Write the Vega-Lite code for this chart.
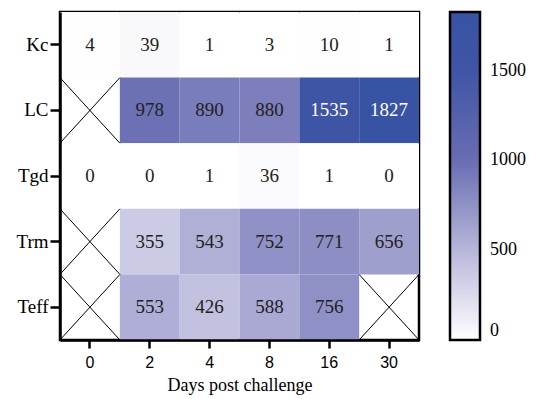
{
  "$schema": "https://vega.github.io/schema/vega-lite/v6.json",
  "autosize": "none",
  "width": 359,
  "height": 328,
  "padding": {"left": 60, "top": 12, "right": 117, "bottom": 59},
  "background": "white",
  "config": {
    "view": {"stroke": "black", "strokeWidth": 2.5},
    "axis": {"domainColor": "black", "domainWidth": 2.5, "tickColor": "black", "tickWidth": 2.5, "labelColor": "black", "titleColor": "black", "grid": false}
  },
  "data": {
    "values": [
      {"cell": "Kc", "day": "0", "value": 4},
      {"cell": "Kc", "day": "2", "value": 39},
      {"cell": "Kc", "day": "4", "value": 1},
      {"cell": "Kc", "day": "8", "value": 3},
      {"cell": "Kc", "day": "16", "value": 10},
      {"cell": "Kc", "day": "30", "value": 1},
      {"cell": "LC", "day": "0", "value": null},
      {"cell": "LC", "day": "2", "value": 978},
      {"cell": "LC", "day": "4", "value": 890},
      {"cell": "LC", "day": "8", "value": 880},
      {"cell": "LC", "day": "16", "value": 1535},
      {"cell": "LC", "day": "30", "value": 1827},
      {"cell": "Tgd", "day": "0", "value": 0},
      {"cell": "Tgd", "day": "2", "value": 0},
      {"cell": "Tgd", "day": "4", "value": 1},
      {"cell": "Tgd", "day": "8", "value": 36},
      {"cell": "Tgd", "day": "16", "value": 1},
      {"cell": "Tgd", "day": "30", "value": 0},
      {"cell": "Trm", "day": "0", "value": null},
      {"cell": "Trm", "day": "2", "value": 355},
      {"cell": "Trm", "day": "4", "value": 543},
      {"cell": "Trm", "day": "8", "value": 752},
      {"cell": "Trm", "day": "16", "value": 771},
      {"cell": "Trm", "day": "30", "value": 656},
      {"cell": "Teff", "day": "0", "value": null},
      {"cell": "Teff", "day": "2", "value": 553},
      {"cell": "Teff", "day": "4", "value": 426},
      {"cell": "Teff", "day": "8", "value": 588},
      {"cell": "Teff", "day": "16", "value": 756},
      {"cell": "Teff", "day": "30", "value": null}
    ]
  },
  "encoding": {
    "x": {
      "field": "day", "type": "ordinal",
      "sort": ["0", "2", "4", "8", "16", "30"],
      "scale": {"paddingInner": 0, "paddingOuter": 0},
      "axis": {"title": "Days post challenge", "labelAngle": 0, "labelFont": "Liberation Sans", "labelFontSize": 16, "labelPadding": 6, "tickSize": 8, "titleFont": "Times New Roman, Liberation Serif, serif", "titleFontSize": 18, "titleFontWeight": "normal", "titlePadding": 6}
    },
    "y": {
      "field": "cell", "type": "nominal",
      "sort": ["Kc", "LC", "Tgd", "Trm", "Teff"],
      "scale": {"paddingInner": 0, "paddingOuter": 0},
      "axis": {"title": null, "labelFont": "Times New Roman, Liberation Serif, serif", "labelFontSize": 19, "labelPadding": 2, "tickSize": 10}
    }
  },
  "layer": [
    {
      "transform": [{"filter": "datum.value != null"}],
      "mark": {"type": "rect"},
      "encoding": {
        "color": {
          "field": "value", "type": "quantitative",
          "scale": {"domain": [0, 500, 1000, 1500, 1827], "range": ["#ffffff", "#b7b6da", "#696db2", "#3f55a5", "#3953a4"], "interpolate": "rgb"},
          "legend": {
            "title": null, "type": "gradient", "direction": "vertical",
            "values": [0, 500, 1000, 1500], "format": "d",
            "gradientLength": 328, "gradientThickness": 30,
            "gradientStrokeColor": "black", "gradientStrokeWidth": 2.5,
            "labelFont": "Times New Roman, Liberation Serif, serif", "labelFontSize": 18, "labelColor": "black",
            "labelOffset": 10, "offset": 31, "padding": 0
          }
        }
      }
    },
    {
      "transform": [{"filter": "datum.value == null"}],
      "mark": {"type": "point", "shape": "M-1,-1.093L1,1.093M-1,1.093L1,-1.093", "size": 3600, "filled": false, "stroke": "black", "strokeWidth": 1, "opacity": 1}
    },
    {
      "transform": [{"filter": "datum.value != null"}],
      "mark": {"type": "text", "font": "Times New Roman, Liberation Serif, serif", "fontSize": 19},
      "encoding": {
        "text": {"field": "value", "type": "quantitative"},
        "color": {"condition": {"test": "datum.value > 1200", "value": "white"}, "value": "#222222"}
      }
    }
  ]
}
